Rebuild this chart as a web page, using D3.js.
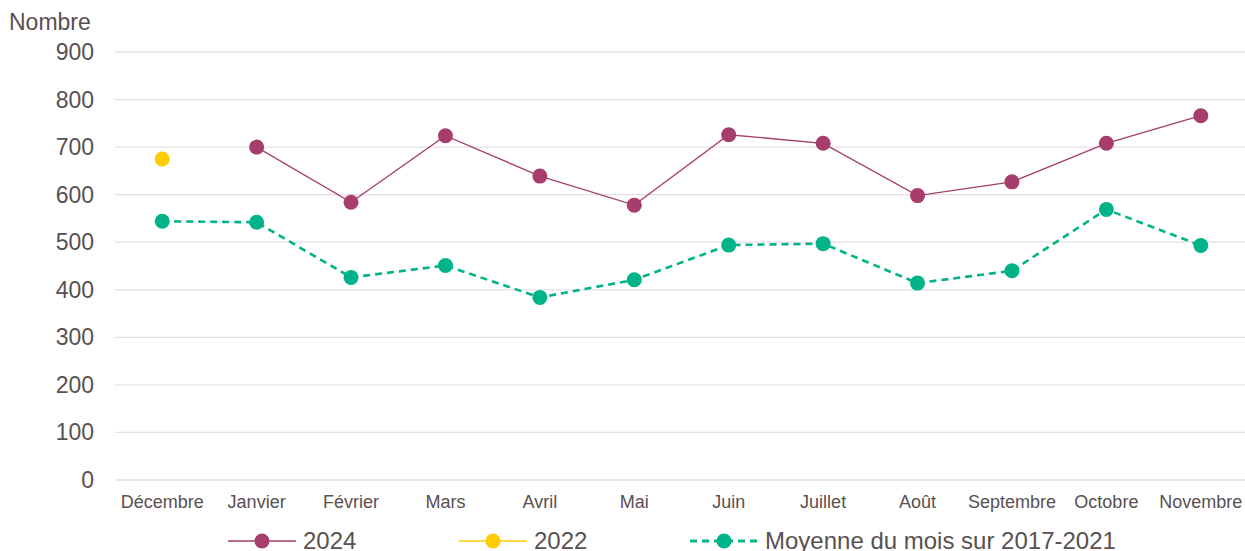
<!DOCTYPE html>
<html>
<head>
<meta charset="utf-8">
<script src="https://cdn.jsdelivr.net/npm/d3@7"></script>
<style>
  body { margin: 0; background: #fff; }
  text { font-family: "Liberation Sans", Arial, sans-serif; fill: #595050; }
</style>
</head>
<body>
<div id="chart"></div>
<script>
    // data
    let months = ["Décembre", "Janvier", "Février", "Mars", "Avril", "Mai", "Juin",
      "Juillet", "Août", "Septembre", "Octobre", "Novembre"];
    let serie2024 = [null, 700, 584, 724, 639, 578, 726, 708, 598, 627, 708, 766];
    let serie2022 = [675, null, null, null, null, null, null, null, null, null, null, null];
    let moyenne = [544, 542, 426, 451, 384, 421, 494, 497, 414, 440, 569, 493];
    let yTicks = [0, 100, 200, 300, 400, 500, 600, 700, 800, 900];

    let series = [
      { name: "2024", values: serie2024, color: "#A63D6A", dash: null, width: 1.3 },
      { name: "2022", values: serie2022, color: "#FFCC00", dash: null, width: 1.3 },
      { name: "Moyenne du mois sur 2017-2021", values: moyenne, color: "#00B388", dash: "7,5", width: 2.6 }
    ];

    let width = 1245, height = 551;
    let svg = d3.select("#chart").append("svg")
      .attr("width", width)
      .attr("height", height)

    const x = d3.scaleBand()
      .domain(months)
      .range([115, 1248])

    const y = d3.scaleLinear()
      .domain([0, 900])
      .range([480, 52])

    // grid
    svg.append("g")
      .selectAll("line")
      .data(yTicks)
      .join("line")
      .attr("x1", 115)
      .attr("x2", 1245)
      .attr("y1", d => y(d))
      .attr("y2", d => y(d))
      .attr("stroke", "#e4e0e0")
      .attr("stroke-width", 1.3)

    svg.append("g")
      .selectAll("text")
      .data(yTicks)
      .join("text")
      .attr("x", 94)
      .attr("y", d => y(d))
      .attr("dy", "0.35em")
      .attr("text-anchor", "end")
      .attr("font-size", "23px")
      .text(d => d)

    svg.append("text")
      .attr("x", 9)
      .attr("y", 30)
      .attr("font-size", "23px")
      .text("Nombre")

    svg.append("g")
      .selectAll("text")
      .data(months)
      .join("text")
      .attr("x", d => x(d) + x.bandwidth() / 2)
      .attr("y", 508)
      .attr("text-anchor", "middle")
      .attr("font-size", "18px")
      .text(d => d)

    let line = d3.line()
      .defined(d => d.v != null)
      .x(d => x(d.m) + x.bandwidth() / 2)
      .y(d => y(d.v))

    series.forEach(s => {
      let pts = months.map((m, i) => ({ m: m, v: s.values[i] }));
      svg.append("path")
        .datum(pts)
        .attr("d", line)
        .attr("fill", "none")
        .attr("stroke", s.color)
        .attr("stroke-width", s.width)
        .attr("stroke-dasharray", s.dash)
      svg.append("g")
        .selectAll("circle")
        .data(pts.filter(d => d.v != null))
        .join("circle")
        .attr("cx", d => x(d.m) + x.bandwidth() / 2)
        .attr("cy", d => y(d.v))
        .attr("r", 7.5)
        .attr("fill", s.color)
    });

    // legend
    let legendX = [228, 459, 690];
    let legend = svg.append("g")
      .selectAll("g")
      .data(series)
      .join("g")
      .attr("transform", (d, i) => `translate(${legendX[i]}, 541)`)
    legend.append("line")
      .attr("x1", 0)
      .attr("x2", 68)
      .attr("stroke", d => d.color)
      .attr("stroke-width", d => d.dash ? 3 : d.width)
      .attr("stroke-dasharray", d => d.dash ? "7,5" : null)
    legend.append("circle")
      .attr("cx", 34)
      .attr("r", 7.5)
      .attr("fill", d => d.color)
    legend.append("text")
      .attr("x", 75)
      .attr("dy", "0.35em")
      .attr("font-size", "24px")
      .text(d => d.name)
</script>
</body>
</html>
